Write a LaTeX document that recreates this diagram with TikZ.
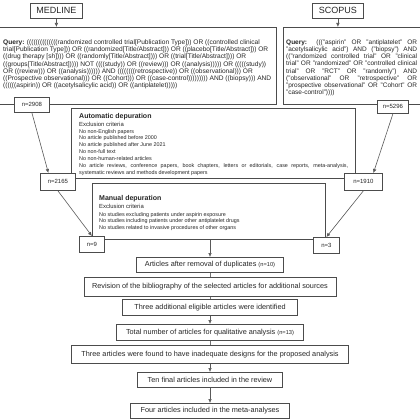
\documentclass[tikz,border=0pt]{standalone}
\usepackage{fontspec}
\setmainfont{Liberation Sans}
\usetikzlibrary{arrows.meta}
\newcommand{\jline}[2]{\makebox[#1][s]{#2}}
\begin{document}
\begin{tikzpicture}[x=1pt,y=-1pt,
  box/.style={draw=black!70, line width=0.8pt, fill=white, inner sep=0pt, text=black!85},
  nbox/.style={box, font=\fontsize{6}{7}\selectfont},
  mainbox/.style={box, font=\fontsize{7.3}{8}\selectfont, anchor=north},
  txt/.style={inner sep=0pt, text=black!85},
  arr/.style={draw=black!65, line width=0.6pt, -{Latex[length=4pt,width=3.6pt]}},
  conn/.style={draw=black!55, line width=0.6pt}]
\useasboundingbox (0,0) rectangle (420,420);
\clip (0,0) rectangle (420,420);

% database headers
\node[box, minimum width=52pt, minimum height=15pt, anchor=north west, font=\fontsize{9}{10}\selectfont] (med) at (30,3) {MEDLINE};
\node[box, minimum width=51pt, minimum height=15pt, anchor=north west, font=\fontsize{9}{10}\selectfont] (sco) at (312,3) {SCOPUS};

% query boxes
\node[box, minimum width=277pt, minimum height=77pt, anchor=north west] (medq) at (-1,27) {};
\node[box, minimum width=140pt, minimum height=77pt, anchor=north west] (scoq) at (283,27) {};

\node[txt, anchor=north west, align=left, font=\fontsize{6.6}{7.2}\selectfont] (medqt) at (3,39.5) {%
\textbf{Query:} ((((((((((((((randomized controlled trial[Publication Type])) OR ((controlled clinical\\
trial[Publication Type])) OR ((randomized[Title/Abstract])) OR ((placebo[Title/Abstract])) OR\\
((drug therapy [sh]))) OR ((randomly[Title/Abstract]))) OR ((trial[Title/Abstract]))) OR\\
((groups[Title/Abstract])))) NOT ((((study)) OR ((review))) OR ((analysis))))) OR (((((study))\\
OR ((review))) OR ((analysis)))))) AND ((((((((retrospective)) OR ((observational))) OR\\
((Prospective observational))) OR ((Cohort))) OR ((case-control))))))))) AND ((biopsy))) AND\\
((((((aspirin)) OR ((acetylsalicylic acid)) OR ((antiplatelet)))))};

\node[txt, anchor=north west, align=left, font=\fontsize{6.5}{7.15}\selectfont] (scoqt) at (286,39.5) {%
\jline{131pt}{\textbf{Query:} ((("aspirin" OR "antiplatelet" OR}\\
\jline{131pt}{"acetylsalicylic acid") AND ("biopsy") AND}\\
\jline{131pt}{(("randomized controlled trial" OR "clinical}\\
\jline{131pt}{trial" OR "randomized" OR "controlled clinical}\\
\jline{131pt}{trial" OR "RCT" OR "randomly") AND}\\
\jline{131pt}{("observational" OR "retrospective" OR}\\
\jline{131pt}{"prospective observational" OR "Cohort" OR}\\
"case-control"))))};

% automatic depuration
\node[box, minimum width=284pt, minimum height=70pt, anchor=north west] (auto) at (71,108) {};
\node[txt, anchor=west, font=\bfseries\fontsize{7}{8}\selectfont] (autoh) at (79,117) {Automatic depuration};
\node[txt, anchor=west, font=\fontsize{5.9}{7}\selectfont] (autoe) at (79,124.5) {Exclusion criteria};
\node[txt, anchor=north west, align=left, font=\fontsize{5.4}{6.85}\selectfont] (autoi) at (79,129) {%
No non-English papers\\
No article published before 2000\\
No article published after June 2021\\
No non-full text\\
No non-human-related articles\\
\jline{269pt}{No article reviews, conference papers, book chapters, letters or editorials, case reports, meta-analysis,}\\
systematic reviews and methods development papers};

% manual depuration
\node[box, minimum width=233pt, minimum height=56pt, anchor=north west] (man) at (92,183) {};
\node[txt, anchor=west, font=\bfseries\fontsize{7}{8}\selectfont] (manh) at (99,199) {Manual depuration};
\node[txt, anchor=west, font=\fontsize{5.9}{7}\selectfont] (mane) at (99,206.5) {Exclusion criteria};
\node[txt, anchor=north west, align=left, font=\fontsize{5.4}{6.7}\selectfont] (mani) at (99,212) {%
No studies excluding patients under aspirin exposure\\
No studies including patients under other antiplatelet drugs\\
No studies related to invasive procedures of other organs};

% count boxes
\node[nbox, minimum width=35pt, minimum height=15pt, anchor=north west] (n2908) at (14,97) {n=2908};
\node[nbox, minimum width=31pt, minimum height=13pt, anchor=north west] (n5296) at (377,100) {n=5296};
\node[nbox, minimum width=35pt, minimum height=17pt, anchor=north west] (n2165) at (40,173) {n=2165};
\node[nbox, minimum width=38pt, minimum height=17pt, anchor=north west] (n1910) at (344,173) {n=1910};
\node[nbox, minimum width=25pt, minimum height=16pt, anchor=north west] (n9) at (79,236) {n=9};
\node[nbox, minimum width=26pt, minimum height=16pt, anchor=north west] (n3) at (313,237) {n=3};

% chain boxes
\node[mainbox, minimum width=147pt, minimum height=15pt] (art1) at (210,257) {Articles after removal of duplicates {\fontsize{5.7}{6}\selectfont(n=10)}};
\node[mainbox, minimum width=252pt, minimum height=19pt] (rev) at (210,277) {Revision of the bibliography of the selected articles for additional sources};
\node[mainbox, minimum width=175pt, minimum height=16pt] (three) at (210,299) {Three additional eligible articles were identified};
\node[mainbox, minimum width=187pt, minimum height=16pt] (total) at (210,324) {Total number of articles for qualitative analysis {\fontsize{5.7}{6}\selectfont(n=13)}};
\node[mainbox, minimum width=277pt, minimum height=18pt] (inad) at (210,345) {Three articles were found to have inadequate designs for the proposed analysis};
\node[mainbox, minimum width=145pt, minimum height=15pt] (ten) at (210,372) {Ten final articles included in the review};
\node[mainbox, minimum width=159pt, minimum height=15pt] (four) at (210,403) {Four articles included in the meta-analyses};

% connectors
\draw[arr] (med.south) -- (med.south |- medq.north);
\draw[arr] (sco.south) -- (sco.south |- scoq.north);
\draw[arr] (n2908.south) -- ([xshift=-9.5pt]n2165.north);
\draw[arr] (n5296.south) -- ([xshift=10pt]n1910.north);
\draw[arr] (n2165.south) -- (n9.north);
\draw[arr] (n1910.south) -- (n3.north);
\draw[arr] (art1.north |- man.south) -- (art1.north);
\draw[conn] (art1.south) -- (rev.north);
\draw[conn] (rev.south) -- (three.north);
\draw[arr] (three.south) -- (total.north);
\draw[conn] (total.south) -- (inad.north);
\draw[arr] (inad.south) -- (ten.north);
\draw[arr] (ten.south) -- (four.north);
\end{tikzpicture}
\end{document}
